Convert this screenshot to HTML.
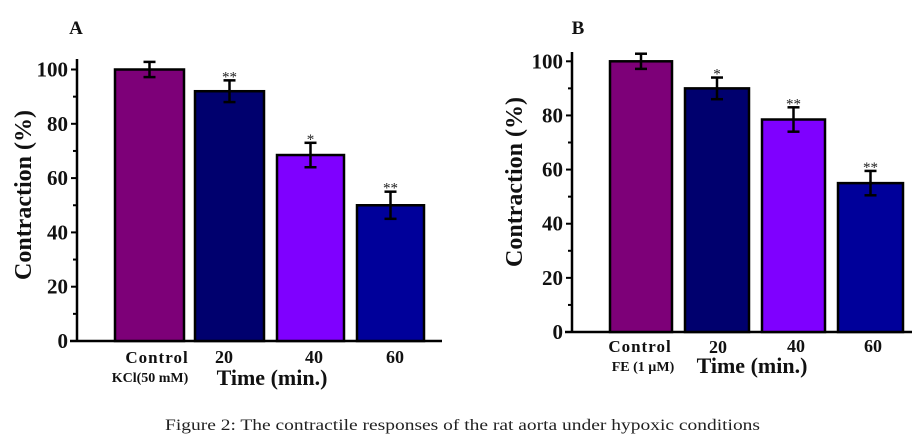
<!DOCTYPE html>
<html><head><meta charset="utf-8"><style>
html,body{margin:0;padding:0;background:#fff;}
svg{display:block;font-family:"Liberation Serif",serif;}
</style></head><body>
<svg id="fig" width="918" height="441" viewBox="0 0 918 441" xmlns="http://www.w3.org/2000/svg">
<g id="pa"></g>
<g id="pb"></g>
<text x="165" y="430" font-size="16" textLength="595" lengthAdjust="spacingAndGlyphs" fill="#222">Figure 2: The contractile responses of the rat aorta under hypoxic conditions</text>
</svg>
<script>
const colors = ["#7d0078","#00006e","#7f00ff","#00009a"];
const valuesA = [100, 92, 68.5, 50];
const errorsA = [2.8, 4, 4.5, 5];
const starsA = ["", "**", "*", "**"];
const valuesB = [100, 90, 78.5, 55];
const errorsB = [2.8, 4, 4.5, 4.5];
const starsB = ["", "*", "**", "**"];
const yTicks = [0, 20, 40, 60, 80, 100];
const NS = "http://www.w3.org/2000/svg";
function mk(parent, tag, attrs, txt){
  const e = document.createElementNS(NS, tag);
  for (const k in attrs) e.setAttribute(k, attrs[k]);
  if (txt !== undefined) e.textContent = txt;
  parent.appendChild(e);
  return e;
}
function drawPanel(g, cfg, values, errors, stars){
  const y = v => cfg.base - v * (cfg.base - cfg.y100) / 100;
  // y-axis
  const ya = mk(g, "line", {x1:cfg.ax, x2:cfg.ax, y1:cfg.top, y2:cfg.base, stroke:"#000","stroke-width":2.5});
  
  
  const xa = mk(g, "line", {x1:cfg.ax-7, x2:cfg.xend, y1:cfg.base, y2:cfg.base, stroke:"#000","stroke-width":2.5});
  
  
  for (let v = 0; v <= 110; v += 10){
    if (y(v) < cfg.top) break;
    const major = v % 20 === 0;
    const t = mk(g, "line", {x1:cfg.ax-(major?6:4), x2:cfg.ax, y1:y(v), y2:y(v), stroke:"#000","stroke-width":2});
    
    
  }
  yTicks.forEach(v => {
    const t = mk(g, "text", {x:cfg.ax-9, y:y(v)+7, "font-size":21, "font-weight":"bold", "text-anchor":"end", fill:"#111"}, v);
    
    
  });
  values.forEach((v, i) => {
    const [x0, x1] = cfg.bars[i];
    const b = mk(g, "rect", {x:x0, y:y(v), width:x1-x0, height:cfg.base-y(v), fill:colors[i], stroke:"#000","stroke-width":2.5});
    
    
    const cx = (x0 + x1) / 2, e = errors[i];
    const eg = mk(g, "g", {stroke:"#000","stroke-width":2.5});
    
    
    mk(eg, "line", {x1:cx, x2:cx, y1:y(v+e), y2:y(v-e)});
    mk(eg, "line", {x1:cx-6, x2:cx+6, y1:y(v+e), y2:y(v+e)});
    mk(eg, "line", {x1:cx-6, x2:cx+6, y1:y(v-e), y2:y(v-e)});
    if (stars[i]){
      const s = mk(g, "text", {x:cx, y:y(v+e)+1, "font-size":15, "text-anchor":"middle", fill:"#222"}, stars[i]);
      
      
    }
  });
}
const pa = document.getElementById("pa");
drawPanel(pa, {ax:77, top:59, base:341, y100:69.5, xend:442,
  bars:[[115,184],[195,264],[277,344],[357,424]]}, valuesA, errorsA, starsA);
const pb = document.getElementById("pb");
drawPanel(pb, {ax:572, top:52, base:332, y100:61.3, xend:912,
  bars:[[610,672],[685,749],[762,825],[838,903]]}, valuesB, errorsB, starsB);
function txt(g, name, x, yy, size, s, extra){
  const a = Object.assign({x:x, y:yy, "font-size":size, "font-weight":"bold", "text-anchor":"middle", fill:"#111"}, extra||{});
  const t = mk(g, "text", a, s);
  
  
  return t;
}
txt(pa, "panel-label", 76, 34, 19, "A");
txt(pb, "panel-label", 578, 34, 19, "B");
txt(pa, "y-axis-title", 0, 0, 24, "Contraction (%)", {transform:"translate(31,195) rotate(-90)"});
txt(pb, "y-axis-title", 0, 0, 24, "Contraction (%)", {transform:"translate(522,182) rotate(-90)"});
txt(pa, "x-tick-label", 157, 363, 17, "Control", {"letter-spacing":"1"});
txt(pa, "x-tick-label", 224, 363, 18, "20");
txt(pa, "x-tick-label", 314, 363, 18, "40");
txt(pa, "x-tick-label", 395, 363, 18, "60");
txt(pa, "control-condition", 150, 382, 14, "KCl(50 mM)");
txt(pa, "x-axis-title", 272, 385, 22, "Time (min.)");
txt(pb, "x-tick-label", 640, 352, 17, "Control", {"letter-spacing":"1"});
txt(pb, "x-tick-label", 718, 353, 18, "20");
txt(pb, "x-tick-label", 796, 352, 18, "40");
txt(pb, "x-tick-label", 873, 352, 18, "60");
txt(pb, "control-condition", 643, 371, 14, "FE (1 µM)");
txt(pb, "x-axis-title", 752, 373, 22, "Time (min.)");
</script>
</body></html>
